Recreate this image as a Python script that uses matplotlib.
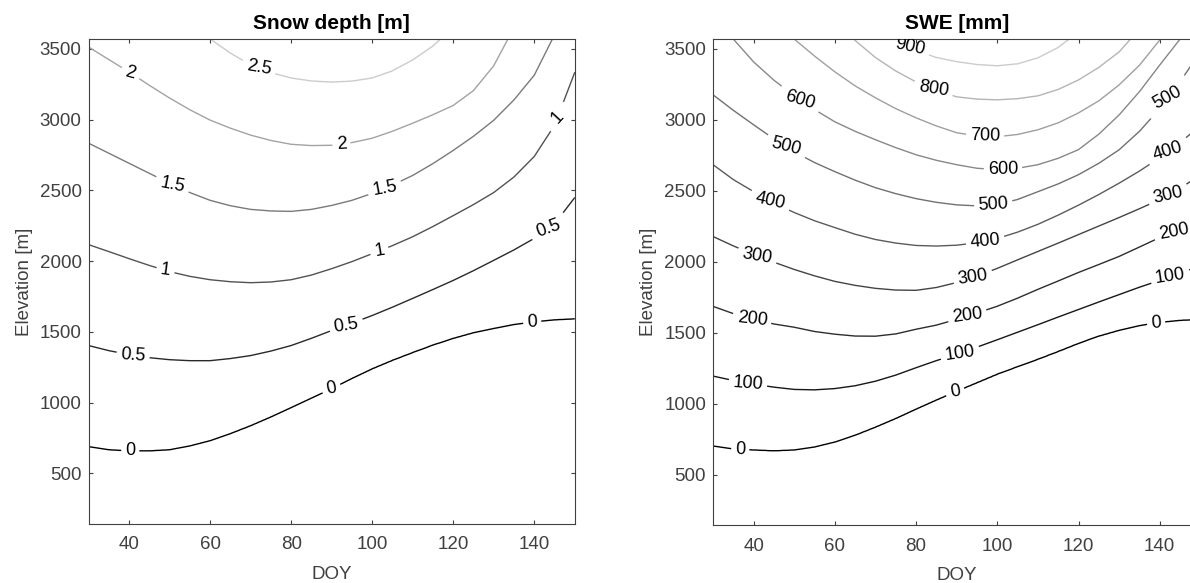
import numpy as np
import matplotlib
matplotlib.use('Agg')
import matplotlib.pyplot as plt

# DOY columns where the contour elevations were read (every 5 days)
doy = list(range(30, 151, 5))

# snow depth [m]: elevation [m] of each contour level per DOY column
depth_levels = [0, 0.5, 1, 1.5, 2, 2.5]
depth_0 = [690, 668, 660, 660, 668, 695, 732, 782, 838, 900, 966, 1033, 1100,
           1172, 1240, 1300, 1355, 1408, 1455, 1495, 1525, 1553, 1572, 1586, 1593]
depth_05 = [1404, 1368, 1340, 1318, 1304, 1297, 1297, 1312, 1333, 1365, 1404, 1455, 1510,
            1562, 1616, 1675, 1737, 1800, 1864, 1933, 2006, 2080, 2161, 2263, 2450]
depth_1 = [2117, 2068, 2018, 1970, 1926, 1893, 1869, 1855, 1848, 1853, 1869, 1902, 1947,
           1997, 2053, 2110, 2173, 2245, 2322, 2400, 2485, 2595, 2740, 2960, 3336]
depth_15 = [2834, 2763, 2692, 2621, 2551, 2485, 2430, 2392, 2366, 2355, 2352, 2366, 2394,
            2430, 2479, 2538, 2606, 2690, 2783, 2883, 2996, 3140, 3314, 3600, 3900]
depth_2 = [3514, 3425, 3337, 3243, 3153, 3070, 2997, 2940, 2891, 2853, 2826, 2817, 2819,
           2838, 2869, 2918, 2975, 3035, 3100, 3205, 3380, 3650, 3900, 4100, 4300]
depth_25 = [3950, 3900, 3850, 3780, 3700, 3640, 3570, 3470, 3386, 3332, 3294, 3273, 3265,
            3272, 3294, 3345, 3421, 3520, 3650, 3800, 4000, 4150, 4300, 4500, 4700]

# SWE [mm]
swe_levels = [0, 100, 200, 300, 400, 500, 600, 700, 800, 900]
swe_0 = [704, 683, 676, 670, 676, 697, 732, 780, 837, 898, 964, 1028, 1090,
         1150, 1210, 1263, 1315, 1370, 1427, 1478, 1519, 1552, 1575, 1589, 1596]
swe_100 = [1196, 1165, 1139, 1118, 1102, 1099, 1108, 1128, 1160, 1203, 1255, 1305, 1350,
           1400, 1452, 1505, 1558, 1612, 1665, 1718, 1770, 1822, 1870, 1919, 1975]
swe_200 = [1687, 1636, 1596, 1563, 1540, 1510, 1491, 1478, 1477, 1493, 1526, 1555, 1596,
           1640, 1688, 1745, 1807, 1866, 1926, 1982, 2039, 2105, 2172, 2230, 2310]
swe_300 = [2179, 2113, 2053, 1998, 1947, 1902, 1863, 1835, 1814, 1802, 1800, 1820, 1855,
           1900, 1955, 2015, 2074, 2133, 2193, 2253, 2313, 2375, 2439, 2520, 2610]
swe_400 = [2685, 2580, 2495, 2415, 2348, 2290, 2242, 2195, 2158, 2133, 2116, 2112, 2118,
           2135, 2165, 2210, 2265, 2330, 2400, 2475, 2555, 2640, 2735, 2840, 2960]
swe_500 = [3177, 3068, 2966, 2866, 2776, 2700, 2636, 2576, 2523, 2481, 2446, 2420, 2402,
           2395, 2405, 2440, 2495, 2550, 2615, 2695, 2790, 2920, 3080, 3270, 3480]
swe_600 = [3750, 3570, 3409, 3280, 3170, 3073, 2987, 2920, 2861, 2805, 2755, 2716, 2685,
           2660, 2650, 2660, 2685, 2730, 2791, 2900, 3036, 3200, 3388, 3570, 3800]
swe_700 = [4000, 3900, 3800, 3690, 3570, 3450, 3339, 3240, 3156, 3080, 3015, 2958, 2910,
           2888, 2882, 2898, 2931, 2980, 3050, 3135, 3247, 3385, 3563, 3800, 4000]
swe_800 = [4300, 4200, 4100, 4000, 3900, 3800, 3690, 3560, 3440, 3345, 3268, 3208, 3163,
           3147, 3142, 3150, 3170, 3215, 3282, 3370, 3479, 3640, 3800, 4000, 4200]
swe_900 = [4600, 4500, 4400, 4300, 4200, 4100, 4000, 3850, 3700, 3570, 3490, 3440, 3410,
           3390, 3381, 3395, 3437, 3510, 3620, 3780, 3900, 4000, 4100, 4300, 4500]

# label positions (DOY, elevation)
depth_label_pos = [(40.3, 682), (89.9, 1107), (139.5, 1567),
                   (41, 1333), (93.6, 1546), (143.5, 2218),
                   (49, 1934), (101.8, 2062), (145.8, 3011),
                   (50.7, 2536), (103.1, 2501),
                   (40.3, 3316), (92.4, 2834),
                   (72, 3351)]
swe_label_pos = [(36.7, 683), (89.6, 1090), (139.1, 1582),
                 (38.6, 1139), (90.8, 1350), (142.6, 1891),
                 (39.6, 1582), (92.6, 1624), (143.5, 2190),
                 (40.8, 1997), (94, 1877), (142, 2471),
                 (44, 2397), (97, 2137), (142, 2777),
                 (48, 2790), (99, 2390), (142, 3156),
                 (51.4, 3142), (101.4, 2650),
                 (97, 2882), (84.2, 3177), (78.5, 3493)]

AX_COLOR = '#404040'


def build_field(levels, rows):
    # grid whose contours pass through the read elevations
    x = np.linspace(doy[0], doy[-1], 481)
    elev = np.linspace(-1000, 7000, 3201)
    step = levels[1] - levels[0]
    vals = [levels[0] - step] + list(levels) + [levels[-1] + 2 * step]
    lines = [np.interp(x, doy, r) for r in rows]
    z = np.zeros((len(elev), len(x)))
    for j in range(len(x)):
        e = [-1000] + [ln[j] for ln in lines] + [7000]
        z[:, j] = np.interp(elev, e, vals)
    return x, elev, z


def draw_panel(ax, levels, rows, label_pos, title):
    x, elev, z = build_field(levels, rows)
    colors = [str(0.8 * lv / levels[-1]) for lv in levels]
    cs = ax.contour(x, elev, z, levels=levels, colors=colors, linewidths=1.0)
    ax.clabel(cs, levels, manual=label_pos, inline=True, inline_spacing=4,
              fmt='%g', fontsize=13, colors='k')
    ax.set_xlim(30, 150)
    ax.set_ylim(145, 3570)
    ax.set_xticks(range(40, 141, 20))
    ax.set_yticks(range(500, 3501, 500))
    ax.tick_params(direction='in', top=True, right=True, length=3, width=0.8,
                   labelsize=13.5, colors=AX_COLOR)
    ax.tick_params(axis='x', pad=9)
    ax.tick_params(axis='y', pad=5)
    for s in ax.spines.values():
        s.set_color(AX_COLOR)
        s.set_linewidth(0.8)
    ax.set_xlabel('DOY', fontsize=13.5, color=AX_COLOR, labelpad=9)
    ax.set_ylabel('Elevation [m]', fontsize=13.5, color=AX_COLOR, labelpad=5)
    ax.set_title(title, fontsize=15, fontweight='bold', pad=7)


def main():
    plt.rcParams['font.family'] = ['Liberation Sans', 'DejaVu Sans']
    fig = plt.figure(figsize=(11.9, 5.83), dpi=100)

    ax1 = fig.add_axes([0.0744, 0.1017, 0.4086, 0.8314])
    draw_panel(ax1, depth_levels,
               [depth_0, depth_05, depth_1, depth_15, depth_2, depth_25],
               depth_label_pos, 'Snow depth [m]')

    ax2 = fig.add_axes([0.5992, 0.099, 0.4095, 0.834])
    draw_panel(ax2, swe_levels,
               [swe_0, swe_100, swe_200, swe_300, swe_400, swe_500,
                swe_600, swe_700, swe_800, swe_900],
               swe_label_pos, 'SWE [mm]')

    fig.savefig('out.png', dpi=100)


if __name__ == "__main__":
    main()
